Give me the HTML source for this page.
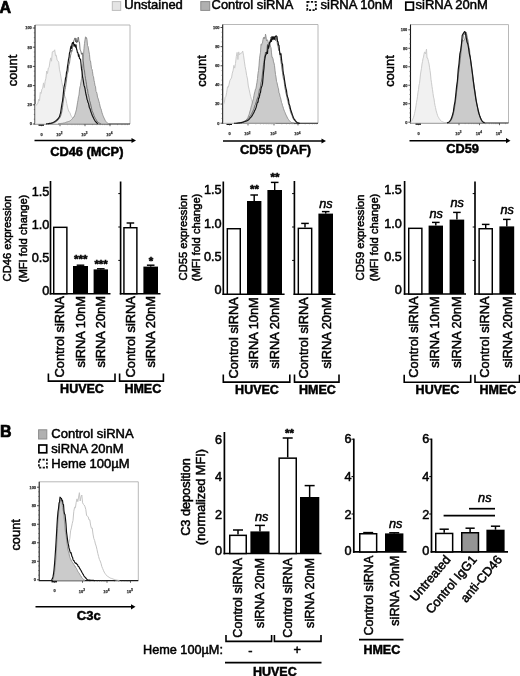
<!DOCTYPE html>
<html><head><meta charset="utf-8"><title>Figure</title>
<style>
html,body{margin:0;padding:0;background:#fff;}
body{width:520px;height:676px;overflow:hidden;}
svg{display:block;filter:blur(0.45px);font-family:'Liberation Sans', sans-serif;}
svg text{white-space:pre;stroke:#000;stroke-width:0.5px;paint-order:stroke;}
</style></head><body>
<svg width="520" height="676" viewBox="0 0 520 676">
<rect x="0" y="0" width="520" height="676" fill="#fff"/>
<text x="-0.6" y="13.0" font-size="16" font-weight="bold" style="stroke-width:0.7px">A</text>
<text x="0.1" y="437.4" font-size="16" font-weight="bold" style="stroke-width:0.7px">B</text>
<rect x="112.3" y="1.6" width="8.4" height="8.8" fill="#e4e4e4" stroke="#bdbdbd" stroke-width="1"/>
<text x="124.3" y="9.4" font-size="13.0">Unstained</text>
<rect x="200.8" y="1.6" width="8.9" height="8.8" fill="#b0b0b0" stroke="#8c8c8c" stroke-width="1"/>
<text x="211.6" y="9.4" font-size="12.9">Control siRNA</text>
<rect x="307.3" y="1.9" width="8.6" height="8.2" fill="#fff" stroke="#111" stroke-width="1.7" stroke-dasharray="2.2 1.4"/>
<text x="320.6" y="9.4" font-size="13.0">siRNA 10nM</text>
<rect x="405.8" y="2.2" width="7.6" height="7.8" fill="#fff" stroke="#000" stroke-width="1.7"/>
<text x="415.6" y="9.4" font-size="13.0">siRNA 20nM</text>
<polyline points="35,25 130,25 130,124" fill="none" stroke="#b0b0b0" stroke-width="0.9"/>
<polyline points="35,25 35,124 130,124" fill="none" stroke="#1a1a1a" stroke-width="1.1"/>
<line x1="32.8" y1="124.0" x2="35" y2="124.0" stroke="#222" stroke-width="0.8"/>
<text x="31.8" y="125.4" font-size="3.9" font-weight="bold" text-anchor="end" fill="#333" style="stroke:#333;stroke-width:0.25px">0</text>
<line x1="32.8" y1="104.8" x2="35" y2="104.8" stroke="#222" stroke-width="0.8"/>
<text x="31.8" y="106.2" font-size="3.9" font-weight="bold" text-anchor="end" fill="#333" style="stroke:#333;stroke-width:0.25px">20</text>
<line x1="32.8" y1="85.6" x2="35" y2="85.6" stroke="#222" stroke-width="0.8"/>
<text x="31.8" y="87.0" font-size="3.9" font-weight="bold" text-anchor="end" fill="#333" style="stroke:#333;stroke-width:0.25px">40</text>
<line x1="32.8" y1="66.4" x2="35" y2="66.4" stroke="#222" stroke-width="0.8"/>
<text x="31.8" y="67.80000000000001" font-size="3.9" font-weight="bold" text-anchor="end" fill="#333" style="stroke:#333;stroke-width:0.25px">60</text>
<line x1="32.8" y1="47.2" x2="35" y2="47.2" stroke="#222" stroke-width="0.8"/>
<text x="31.8" y="48.6" font-size="3.9" font-weight="bold" text-anchor="end" fill="#333" style="stroke:#333;stroke-width:0.25px">80</text>
<line x1="32.8" y1="28.0" x2="35" y2="28.0" stroke="#222" stroke-width="0.8"/>
<text x="31.8" y="29.4" font-size="3.9" font-weight="bold" text-anchor="end" fill="#333" style="stroke:#333;stroke-width:0.25px">100</text>
<line x1="33.8" y1="119.2" x2="35" y2="119.2" stroke="#444" stroke-width="0.5"/>
<line x1="33.8" y1="114.4" x2="35" y2="114.4" stroke="#444" stroke-width="0.5"/>
<line x1="33.8" y1="109.6" x2="35" y2="109.6" stroke="#444" stroke-width="0.5"/>
<line x1="33.8" y1="100.0" x2="35" y2="100.0" stroke="#444" stroke-width="0.5"/>
<line x1="33.8" y1="95.19999999999999" x2="35" y2="95.19999999999999" stroke="#444" stroke-width="0.5"/>
<line x1="33.8" y1="90.39999999999999" x2="35" y2="90.39999999999999" stroke="#444" stroke-width="0.5"/>
<line x1="33.8" y1="80.8" x2="35" y2="80.8" stroke="#444" stroke-width="0.5"/>
<line x1="33.8" y1="76.0" x2="35" y2="76.0" stroke="#444" stroke-width="0.5"/>
<line x1="33.8" y1="71.2" x2="35" y2="71.2" stroke="#444" stroke-width="0.5"/>
<line x1="33.8" y1="61.60000000000001" x2="35" y2="61.60000000000001" stroke="#444" stroke-width="0.5"/>
<line x1="33.8" y1="56.800000000000004" x2="35" y2="56.800000000000004" stroke="#444" stroke-width="0.5"/>
<line x1="33.8" y1="52.0" x2="35" y2="52.0" stroke="#444" stroke-width="0.5"/>
<line x1="33.8" y1="42.400000000000006" x2="35" y2="42.400000000000006" stroke="#444" stroke-width="0.5"/>
<line x1="33.8" y1="37.6" x2="35" y2="37.6" stroke="#444" stroke-width="0.5"/>
<line x1="33.8" y1="32.8" x2="35" y2="32.8" stroke="#444" stroke-width="0.5"/>
<rect x="38.5" y="124" width="5.5" height="1.8" fill="#111"/>
<line x1="41.5" y1="124" x2="41.5" y2="126.2" stroke="#222" stroke-width="0.7"/>
<text x="41.5" y="135.6" font-size="3.9" font-weight="bold" text-anchor="middle" fill="#333" style="stroke:#333;stroke-width:0.25px">0</text>
<line x1="60" y1="124" x2="60" y2="126.2" stroke="#222" stroke-width="0.7"/>
<text x="59.4" y="136" font-size="3.9" font-weight="bold" text-anchor="middle" fill="#333" style="stroke:#333;stroke-width:0.25px">10<tspan dy="-1.6" font-size="3.12">2</tspan></text>
<line x1="85" y1="124" x2="85" y2="126.2" stroke="#222" stroke-width="0.7"/>
<text x="84.4" y="136" font-size="3.9" font-weight="bold" text-anchor="middle" fill="#333" style="stroke:#333;stroke-width:0.25px">10<tspan dy="-1.6" font-size="3.12">3</tspan></text>
<line x1="110" y1="124" x2="110" y2="126.2" stroke="#222" stroke-width="0.7"/>
<text x="109.4" y="136" font-size="3.9" font-weight="bold" text-anchor="middle" fill="#333" style="stroke:#333;stroke-width:0.25px">10<tspan dy="-1.6" font-size="3.12">4</tspan></text>
<line x1="67.52574989159953" y1="124" x2="67.52574989159953" y2="125.2" stroke="#555" stroke-width="0.4"/>
<line x1="71.92803136799157" y1="124" x2="71.92803136799157" y2="125.2" stroke="#555" stroke-width="0.4"/>
<line x1="75.05149978319906" y1="124" x2="75.05149978319906" y2="125.2" stroke="#555" stroke-width="0.4"/>
<line x1="77.47425010840047" y1="124" x2="77.47425010840047" y2="125.2" stroke="#555" stroke-width="0.4"/>
<line x1="79.4537812595911" y1="124" x2="79.4537812595911" y2="125.2" stroke="#555" stroke-width="0.4"/>
<line x1="81.12745100035642" y1="124" x2="81.12745100035642" y2="125.2" stroke="#555" stroke-width="0.4"/>
<line x1="82.5772496747986" y1="124" x2="82.5772496747986" y2="125.2" stroke="#555" stroke-width="0.4"/>
<line x1="83.85606273598313" y1="124" x2="83.85606273598313" y2="125.2" stroke="#555" stroke-width="0.4"/>
<line x1="92.52574989159953" y1="124" x2="92.52574989159953" y2="125.2" stroke="#555" stroke-width="0.4"/>
<line x1="96.92803136799157" y1="124" x2="96.92803136799157" y2="125.2" stroke="#555" stroke-width="0.4"/>
<line x1="100.05149978319906" y1="124" x2="100.05149978319906" y2="125.2" stroke="#555" stroke-width="0.4"/>
<line x1="102.47425010840047" y1="124" x2="102.47425010840047" y2="125.2" stroke="#555" stroke-width="0.4"/>
<line x1="104.4537812595911" y1="124" x2="104.4537812595911" y2="125.2" stroke="#555" stroke-width="0.4"/>
<line x1="106.12745100035642" y1="124" x2="106.12745100035642" y2="125.2" stroke="#555" stroke-width="0.4"/>
<line x1="107.5772496747986" y1="124" x2="107.5772496747986" y2="125.2" stroke="#555" stroke-width="0.4"/>
<line x1="108.85606273598313" y1="124" x2="108.85606273598313" y2="125.2" stroke="#555" stroke-width="0.4"/>
<line x1="117.52574989159953" y1="124" x2="117.52574989159953" y2="125.2" stroke="#555" stroke-width="0.4"/>
<line x1="121.92803136799157" y1="124" x2="121.92803136799157" y2="125.2" stroke="#555" stroke-width="0.4"/>
<line x1="125.05149978319906" y1="124" x2="125.05149978319906" y2="125.2" stroke="#555" stroke-width="0.4"/>
<line x1="127.47425010840047" y1="124" x2="127.47425010840047" y2="125.2" stroke="#555" stroke-width="0.4"/>
<text x="16.5" y="70.5" font-size="12.9" text-anchor="middle" transform="rotate(-90 16.5 70.5)">count</text>
<polygon points="35.5,124.0 35.5,104.0 36.3,105.3 37.1,104.1 37.9,103.2 38.7,99.1 39.5,100.7 40.3,92.4 41.1,93.4 41.9,89.3 42.7,88.2 43.5,82.9 44.3,87.6 45.1,81.4 45.9,78.3 46.7,71.0 47.5,73.5 48.3,68.0 49.1,67.4 49.9,62.0 50.7,57.9 51.5,61.2 52.3,51.9 53.1,51.2 53.9,51.6 54.7,49.8 55.5,55.8 56.3,55.2 57.1,60.1 57.9,60.9 58.7,62.2 59.5,69.8 60.3,73.2 61.1,78.1 61.9,82.6 62.7,86.4 63.5,89.2 64.3,94.9 65.1,96.8 65.9,98.8 66.7,103.4 67.5,107.1 68.3,110.0 69.1,112.0 69.9,112.5 70.7,115.0 71.5,116.7 72.3,117.7 73.1,118.3 73.9,119.7 74.7,120.4 75.5,121.1 76.3,121.8 77.1,122.4 77.9,122.7 78.7,122.9 79.5,123.0 80.3,123.2 81.1,123.3 81.9,123.5 82.7,123.7 83.5,123.8 83.5,124.0" fill="#f1f1f1" stroke="#cbcbcb" stroke-width="1" stroke-linejoin="round"/>
<polygon points="58.0,124.0 58.0,124.0 58.5,123.9 59.0,123.8 59.5,123.7 60.0,123.7 60.5,123.6 61.0,123.5 61.5,123.4 62.0,123.3 62.5,123.3 63.0,123.2 63.5,123.0 64.0,123.0 64.5,122.9 65.0,122.7 65.5,122.5 66.0,122.3 66.5,122.1 67.0,122.0 67.5,121.8 68.0,121.7 68.5,121.5 69.0,121.3 69.5,121.2 70.0,120.9 70.5,120.5 71.0,120.1 71.5,119.6 72.0,119.1 72.5,118.5 73.0,118.0 73.5,117.1 74.0,117.0 74.5,115.6 75.0,114.4 75.5,112.8 76.0,111.1 76.5,109.1 77.0,106.0 77.5,102.8 78.0,100.2 78.5,96.6 79.0,95.1 79.5,89.9 80.0,86.9 80.5,85.3 81.0,81.5 81.5,78.6 82.0,75.5 82.5,68.9 83.0,60.9 83.5,54.9 84.0,48.5 84.5,43.4 85.0,39.9 85.5,36.8 86.0,39.2 86.5,37.5 87.0,39.6 87.5,45.5 88.0,46.3 88.5,49.0 89.0,52.0 89.5,54.5 90.0,60.7 90.5,60.9 91.0,64.8 91.5,68.6 92.0,69.2 92.5,71.7 93.0,75.6 93.5,76.7 94.0,80.3 94.5,82.4 95.0,85.9 95.5,86.3 96.0,91.6 96.5,92.0 97.0,93.6 97.5,97.1 98.0,98.1 98.5,100.0 99.0,101.6 99.5,103.5 100.0,106.0 100.5,108.1 101.0,108.9 101.5,110.7 102.0,112.8 102.5,114.2 103.0,115.6 103.5,116.8 104.0,118.0 104.5,118.9 105.0,120.1 105.5,120.9 106.0,121.7 106.5,122.3 107.0,122.6 107.5,123.0 108.0,123.3 108.5,123.6 109.0,123.9 109.0,124.0" fill="#cbcbcb" stroke="#8f8f8f" stroke-width="0.9" stroke-linejoin="round"/>
<polyline points="48.0,124.0 48.5,123.9 49.0,123.8 49.5,123.8 50.0,123.7 50.5,123.6 51.0,123.5 51.5,123.4 52.0,123.3 52.5,123.3 53.0,123.2 53.5,123.0 54.0,122.9 54.5,122.6 55.0,122.3 55.5,122.0 56.0,121.7 56.5,121.4 57.0,120.9 57.5,120.6 58.0,120.1 58.5,119.5 59.0,118.8 59.5,118.2 60.0,117.4 60.5,116.4 61.0,114.8 61.5,113.1 62.0,110.6 62.5,107.3 63.0,103.4 63.5,99.0 64.0,96.8 64.5,92.7 65.0,89.4 65.5,87.4 66.0,83.0 66.5,80.0 67.0,74.9 67.5,73.1 68.0,71.8 68.5,66.3 69.0,64.4 69.5,63.2 70.0,58.8 70.5,55.9 71.0,53.7 71.5,50.1 72.0,51.4 72.5,46.5 73.0,42.8 73.5,41.7 74.0,40.2 74.5,39.2 75.0,37.9 75.5,41.9 76.0,38.3 76.5,42.7 77.0,40.4 77.5,42.2 78.0,37.2 78.5,37.5 79.0,42.3 79.5,42.2 80.0,49.2 80.5,50.4 81.0,51.8 81.5,54.3 82.0,53.1 82.5,53.1 83.0,60.9 83.5,63.1 84.0,69.1 84.5,70.9 85.0,75.5 85.5,78.4 86.0,81.3 86.5,84.4 87.0,88.4 87.5,89.1 88.0,93.5 88.5,95.1 89.0,97.4 89.5,100.3 90.0,101.9 90.5,103.5 91.0,106.0 91.5,108.2 92.0,110.5 92.5,111.5 93.0,112.8 93.5,114.1 94.0,115.5 94.5,116.5 95.0,117.8 95.5,118.7 96.0,119.4 96.5,120.3 97.0,121.0 97.5,121.6 98.0,122.2 98.5,122.7 99.0,123.0 99.5,123.2 100.0,123.5 100.5,123.7 101.0,123.9" fill="none" stroke="#555" stroke-width="0.8" stroke-linejoin="round"/>
<polyline points="46.0,124.0 46.5,123.9 47.0,123.8 47.5,123.7 48.0,123.7 48.5,123.6 49.0,123.5 49.5,123.4 50.0,123.3 50.5,123.3 51.0,123.2 51.5,123.1 52.0,122.9 52.5,122.7 53.0,122.5 53.5,122.2 54.0,122.0 54.5,121.7 55.0,121.4 55.5,121.1 56.0,120.7 56.5,120.2 57.0,119.8 57.5,119.5 58.0,118.6 58.5,118.2 59.0,117.3 59.5,116.7 60.0,114.7 60.5,113.1 61.0,110.2 61.5,106.7 62.0,103.5 62.5,101.0 63.0,96.7 63.5,91.8 64.0,87.4 64.5,84.8 65.0,82.5 65.5,78.3 66.0,77.0 66.5,72.2 67.0,71.0 67.5,66.4 68.0,63.5 68.5,59.3 69.0,57.7 69.5,52.7 70.0,51.9 70.5,48.1 71.0,46.2 71.5,48.5 72.0,43.9 72.5,42.6 73.0,43.3 73.5,42.3 74.0,46.2 74.5,44.5 75.0,45.8 75.5,47.1 76.0,44.7 76.5,48.8 77.0,50.3 77.5,52.8 78.0,52.9 78.5,56.3 79.0,54.8 79.5,58.6 80.0,59.0 80.5,59.0 81.0,63.7 81.5,68.9 82.0,71.7 82.5,76.6 83.0,78.8 83.5,82.2 84.0,85.4 84.5,86.7 85.0,88.7 85.5,91.9 86.0,94.5 86.5,96.3 87.0,99.2 87.5,100.3 88.0,102.5 88.5,103.1 89.0,106.0 89.5,108.0 90.0,108.7 90.5,110.5 91.0,112.0 91.5,113.4 92.0,114.7 92.5,116.0 93.0,116.9 93.5,117.9 94.0,119.0 94.5,120.0 95.0,120.8 95.5,121.4 96.0,122.0 96.5,122.5 97.0,123.0 97.5,123.4 98.0,123.8" fill="none" stroke="#111" stroke-width="1.15" stroke-linejoin="round"/>
<line x1="34.5" y1="140.5" x2="133" y2="140.5" stroke="#000" stroke-width="1.5"/>
<polygon points="136,140.5 131.5,137.9 131.5,143.1" fill="#000"/>
<text x="86.8" y="155.5" font-size="12.8" font-weight="bold" text-anchor="middle">CD46 (MCP)</text>
<polyline points="222.7,24.5 318,24.5 318,123.2" fill="none" stroke="#b0b0b0" stroke-width="0.9"/>
<polyline points="222.7,24.5 222.7,123.2 318,123.2" fill="none" stroke="#1a1a1a" stroke-width="1.1"/>
<line x1="220.5" y1="123.2" x2="222.7" y2="123.2" stroke="#222" stroke-width="0.8"/>
<text x="219.5" y="124.60000000000001" font-size="3.9" font-weight="bold" text-anchor="end" fill="#333" style="stroke:#333;stroke-width:0.25px">0</text>
<line x1="220.5" y1="104.06" x2="222.7" y2="104.06" stroke="#222" stroke-width="0.8"/>
<text x="219.5" y="105.46000000000001" font-size="3.9" font-weight="bold" text-anchor="end" fill="#333" style="stroke:#333;stroke-width:0.25px">20</text>
<line x1="220.5" y1="84.92" x2="222.7" y2="84.92" stroke="#222" stroke-width="0.8"/>
<text x="219.5" y="86.32000000000001" font-size="3.9" font-weight="bold" text-anchor="end" fill="#333" style="stroke:#333;stroke-width:0.25px">40</text>
<line x1="220.5" y1="65.78" x2="222.7" y2="65.78" stroke="#222" stroke-width="0.8"/>
<text x="219.5" y="67.18" font-size="3.9" font-weight="bold" text-anchor="end" fill="#333" style="stroke:#333;stroke-width:0.25px">60</text>
<line x1="220.5" y1="46.64" x2="222.7" y2="46.64" stroke="#222" stroke-width="0.8"/>
<text x="219.5" y="48.04" font-size="3.9" font-weight="bold" text-anchor="end" fill="#333" style="stroke:#333;stroke-width:0.25px">80</text>
<line x1="220.5" y1="27.5" x2="222.7" y2="27.5" stroke="#222" stroke-width="0.8"/>
<text x="219.5" y="28.9" font-size="3.9" font-weight="bold" text-anchor="end" fill="#333" style="stroke:#333;stroke-width:0.25px">100</text>
<line x1="221.5" y1="118.415" x2="222.7" y2="118.415" stroke="#444" stroke-width="0.5"/>
<line x1="221.5" y1="113.63" x2="222.7" y2="113.63" stroke="#444" stroke-width="0.5"/>
<line x1="221.5" y1="108.845" x2="222.7" y2="108.845" stroke="#444" stroke-width="0.5"/>
<line x1="221.5" y1="99.275" x2="222.7" y2="99.275" stroke="#444" stroke-width="0.5"/>
<line x1="221.5" y1="94.49000000000001" x2="222.7" y2="94.49000000000001" stroke="#444" stroke-width="0.5"/>
<line x1="221.5" y1="89.705" x2="222.7" y2="89.705" stroke="#444" stroke-width="0.5"/>
<line x1="221.5" y1="80.135" x2="222.7" y2="80.135" stroke="#444" stroke-width="0.5"/>
<line x1="221.5" y1="75.35" x2="222.7" y2="75.35" stroke="#444" stroke-width="0.5"/>
<line x1="221.5" y1="70.565" x2="222.7" y2="70.565" stroke="#444" stroke-width="0.5"/>
<line x1="221.5" y1="60.995000000000005" x2="222.7" y2="60.995000000000005" stroke="#444" stroke-width="0.5"/>
<line x1="221.5" y1="56.21" x2="222.7" y2="56.21" stroke="#444" stroke-width="0.5"/>
<line x1="221.5" y1="51.425" x2="222.7" y2="51.425" stroke="#444" stroke-width="0.5"/>
<line x1="221.5" y1="41.855000000000004" x2="222.7" y2="41.855000000000004" stroke="#444" stroke-width="0.5"/>
<line x1="221.5" y1="37.07" x2="222.7" y2="37.07" stroke="#444" stroke-width="0.5"/>
<line x1="221.5" y1="32.285" x2="222.7" y2="32.285" stroke="#444" stroke-width="0.5"/>
<rect x="226.5" y="123.2" width="5.5" height="1.8" fill="#111"/>
<line x1="229.5" y1="123.2" x2="229.5" y2="125.4" stroke="#222" stroke-width="0.7"/>
<text x="229.5" y="134.8" font-size="3.9" font-weight="bold" text-anchor="middle" fill="#333" style="stroke:#333;stroke-width:0.25px">0</text>
<line x1="248" y1="123.2" x2="248" y2="125.4" stroke="#222" stroke-width="0.7"/>
<text x="247.4" y="135.2" font-size="3.9" font-weight="bold" text-anchor="middle" fill="#333" style="stroke:#333;stroke-width:0.25px">10<tspan dy="-1.6" font-size="3.12">2</tspan></text>
<line x1="274" y1="123.2" x2="274" y2="125.4" stroke="#222" stroke-width="0.7"/>
<text x="273.4" y="135.2" font-size="3.9" font-weight="bold" text-anchor="middle" fill="#333" style="stroke:#333;stroke-width:0.25px">10<tspan dy="-1.6" font-size="3.12">3</tspan></text>
<line x1="298" y1="123.2" x2="298" y2="125.4" stroke="#222" stroke-width="0.7"/>
<text x="297.4" y="135.2" font-size="3.9" font-weight="bold" text-anchor="middle" fill="#333" style="stroke:#333;stroke-width:0.25px">10<tspan dy="-1.6" font-size="3.12">4</tspan></text>
<line x1="255.8267798872635" y1="123.2" x2="255.8267798872635" y2="124.4" stroke="#555" stroke-width="0.4"/>
<line x1="260.4051526227112" y1="123.2" x2="260.4051526227112" y2="124.4" stroke="#555" stroke-width="0.4"/>
<line x1="263.653559774527" y1="123.2" x2="263.653559774527" y2="124.4" stroke="#555" stroke-width="0.4"/>
<line x1="266.1732201127365" y1="123.2" x2="266.1732201127365" y2="124.4" stroke="#555" stroke-width="0.4"/>
<line x1="268.23193250997474" y1="123.2" x2="268.23193250997474" y2="124.4" stroke="#555" stroke-width="0.4"/>
<line x1="269.97254904037067" y1="123.2" x2="269.97254904037067" y2="124.4" stroke="#555" stroke-width="0.4"/>
<line x1="271.48033966179054" y1="123.2" x2="271.48033966179054" y2="124.4" stroke="#555" stroke-width="0.4"/>
<line x1="272.81030524542246" y1="123.2" x2="272.81030524542246" y2="124.4" stroke="#555" stroke-width="0.4"/>
<line x1="281.8267798872635" y1="123.2" x2="281.8267798872635" y2="124.4" stroke="#555" stroke-width="0.4"/>
<line x1="286.4051526227112" y1="123.2" x2="286.4051526227112" y2="124.4" stroke="#555" stroke-width="0.4"/>
<line x1="289.653559774527" y1="123.2" x2="289.653559774527" y2="124.4" stroke="#555" stroke-width="0.4"/>
<line x1="292.1732201127365" y1="123.2" x2="292.1732201127365" y2="124.4" stroke="#555" stroke-width="0.4"/>
<line x1="294.23193250997474" y1="123.2" x2="294.23193250997474" y2="124.4" stroke="#555" stroke-width="0.4"/>
<line x1="295.97254904037067" y1="123.2" x2="295.97254904037067" y2="124.4" stroke="#555" stroke-width="0.4"/>
<line x1="297.48033966179054" y1="123.2" x2="297.48033966179054" y2="124.4" stroke="#555" stroke-width="0.4"/>
<line x1="298.81030524542246" y1="123.2" x2="298.81030524542246" y2="124.4" stroke="#555" stroke-width="0.4"/>
<line x1="305.22471989593555" y1="123.2" x2="305.22471989593555" y2="124.4" stroke="#555" stroke-width="0.4"/>
<line x1="309.4509101132719" y1="123.2" x2="309.4509101132719" y2="124.4" stroke="#555" stroke-width="0.4"/>
<line x1="312.4494397918711" y1="123.2" x2="312.4494397918711" y2="124.4" stroke="#555" stroke-width="0.4"/>
<line x1="314.77528010406445" y1="123.2" x2="314.77528010406445" y2="124.4" stroke="#555" stroke-width="0.4"/>
<line x1="316.67563000920745" y1="123.2" x2="316.67563000920745" y2="124.4" stroke="#555" stroke-width="0.4"/>
<text x="206.1" y="71" font-size="12.9" text-anchor="middle" transform="rotate(-90 206.1 71)">count</text>
<polygon points="223.5,123.2 223.5,104.2 224.3,102.7 225.1,97.2 225.9,96.4 226.7,92.3 227.5,86.8 228.3,87.2 229.1,84.1 229.9,80.5 230.7,79.0 231.5,78.0 232.3,73.2 233.1,70.5 233.9,65.4 234.7,68.1 235.5,63.4 236.3,56.5 237.1,52.4 237.9,59.5 238.7,51.9 239.5,54.9 240.3,53.4 241.1,53.2 241.9,52.8 242.7,51.0 243.5,55.2 244.3,61.1 245.1,66.6 245.9,70.5 246.7,75.7 247.5,79.0 248.3,86.0 249.1,89.3 249.9,93.3 250.7,96.7 251.5,99.5 252.3,102.3 253.1,103.9 253.9,107.1 254.7,108.1 255.5,110.9 256.3,112.5 257.1,113.6 257.9,114.9 258.7,116.2 259.5,117.1 260.3,118.1 261.1,119.0 261.9,119.9 262.7,120.5 263.5,120.9 264.3,121.4 265.1,121.8 265.9,122.0 266.7,122.3 267.5,122.5 268.3,122.7 269.1,122.9 269.9,123.1 270.7,123.1 271.5,123.2 272.3,123.2 273.1,123.2 273.9,123.2 274.7,123.2 275.5,123.2 275.5,123.2" fill="#f1f1f1" stroke="#cbcbcb" stroke-width="1" stroke-linejoin="round"/>
<polygon points="238.0,123.2 238.0,123.2 238.5,123.2 239.0,123.2 239.5,123.2 240.0,123.1 240.5,122.9 241.0,122.8 241.5,122.7 242.0,122.5 242.5,122.4 243.0,122.2 243.5,122.1 244.0,121.8 244.5,121.4 245.0,121.0 245.5,120.5 246.0,120.0 246.5,119.5 247.0,118.9 247.5,118.3 248.0,117.4 248.5,116.0 249.0,114.9 249.5,113.1 250.0,111.1 250.5,109.9 251.0,107.4 251.5,105.7 252.0,104.1 252.5,101.8 253.0,100.2 253.5,98.6 254.0,95.3 254.5,92.9 255.0,91.2 255.5,89.0 256.0,88.3 256.5,85.1 257.0,82.3 257.5,78.6 258.0,73.4 258.5,70.6 259.0,65.9 259.5,58.8 260.0,55.1 260.5,52.2 261.0,44.5 261.5,45.2 262.0,43.2 262.5,42.9 263.0,39.5 263.5,37.4 264.0,39.0 264.5,37.1 265.0,38.4 265.5,34.1 266.0,36.4 266.5,40.9 267.0,39.9 267.5,39.9 268.0,41.3 268.5,43.6 269.0,43.0 269.5,42.0 270.0,43.4 270.5,47.1 271.0,47.6 271.5,52.9 272.0,57.5 272.5,57.3 273.0,58.8 273.5,61.9 274.0,63.1 274.5,65.6 275.0,70.2 275.5,74.5 276.0,77.1 276.5,81.3 277.0,82.7 277.5,85.1 278.0,87.3 278.5,88.9 279.0,93.2 279.5,93.5 280.0,96.3 280.5,97.6 281.0,99.9 281.5,102.4 282.0,103.4 282.5,105.7 283.0,106.8 283.5,108.7 284.0,110.1 284.5,111.4 285.0,112.4 285.5,113.8 286.0,115.0 286.5,115.8 287.0,117.0 287.5,118.0 288.0,118.9 288.5,119.5 289.0,120.2 289.5,120.8 290.0,121.4 290.5,121.9 291.0,122.3 291.5,122.6 292.0,122.9 292.5,123.1 293.0,123.2 293.5,123.2 294.0,123.2 294.0,123.2" fill="#cbcbcb" stroke="#8f8f8f" stroke-width="0.9" stroke-linejoin="round"/>
<polyline points="236.0,123.2 236.5,123.2 237.0,123.2 237.5,123.2 238.0,123.2 238.5,123.1 239.0,123.1 239.5,123.0 240.0,122.9 240.5,122.8 241.0,122.7 241.5,122.6 242.0,122.4 242.5,122.2 243.0,122.0 243.5,121.8 244.0,121.5 244.5,121.2 245.0,121.0 245.5,120.8 246.0,120.4 246.5,120.2 247.0,119.9 247.5,119.2 248.0,118.8 248.5,118.3 249.0,117.5 249.5,117.2 250.0,116.1 250.5,115.6 251.0,114.9 251.5,113.6 252.0,113.1 252.5,111.5 253.0,111.0 253.5,109.6 254.0,108.6 254.5,106.6 255.0,105.1 255.5,104.4 256.0,102.3 256.5,101.1 257.0,99.1 257.5,98.0 258.0,96.9 258.5,95.2 259.0,92.2 259.5,89.1 260.0,88.5 260.5,87.0 261.0,82.7 261.5,81.2 262.0,77.6 262.5,73.1 263.0,68.7 263.5,64.5 264.0,62.2 264.5,57.0 265.0,55.6 265.5,52.0 266.0,52.5 266.5,53.1 267.0,48.8 267.5,44.4 268.0,45.9 268.5,45.2 269.0,44.2 269.5,42.8 270.0,40.6 270.5,41.6 271.0,37.0 271.5,40.1 272.0,39.5 272.5,37.1 273.0,36.7 273.5,39.2 274.0,37.8 274.5,36.5 275.0,37.7 275.5,40.5 276.0,37.1 276.5,38.1 277.0,40.7 277.5,44.9 278.0,46.0 278.5,48.9 279.0,51.0 279.5,51.5 280.0,54.2 280.5,58.5 281.0,61.9 281.5,65.0 282.0,69.1 282.5,72.4 283.0,76.3 283.5,78.9 284.0,80.1 284.5,84.3 285.0,88.0 285.5,90.6 286.0,93.3 286.5,95.0 287.0,97.4 287.5,100.5 288.0,101.7 288.5,104.2 289.0,105.5 289.5,108.0 290.0,109.5 290.5,111.8 291.0,113.2 291.5,114.4 292.0,115.6 292.5,116.9 293.0,118.3 293.5,119.2 294.0,120.0 294.5,120.6 295.0,121.2 295.5,121.6 296.0,122.2 296.5,122.6 297.0,122.9 297.5,123.1 298.0,123.2 298.5,123.2 299.0,123.2" fill="none" stroke="#555" stroke-width="0.8" stroke-linejoin="round"/>
<polyline points="234.0,123.2 234.5,123.2 235.0,123.2 235.5,123.2 236.0,123.2 236.5,123.2 237.0,123.2 237.5,123.1 238.0,123.0 238.5,123.0 239.0,122.9 239.5,122.8 240.0,122.8 240.5,122.7 241.0,122.6 241.5,122.6 242.0,122.4 242.5,122.3 243.0,122.2 243.5,122.0 244.0,121.8 244.5,121.7 245.0,121.5 245.5,121.3 246.0,121.2 246.5,121.0 247.0,120.8 247.5,120.6 248.0,120.3 248.5,119.9 249.0,119.3 249.5,118.8 250.0,118.2 250.5,117.7 251.0,117.1 251.5,116.6 252.0,115.7 252.5,115.1 253.0,114.1 253.5,113.1 254.0,112.2 254.5,111.0 255.0,110.0 255.5,108.9 256.0,107.7 256.5,105.9 257.0,103.7 257.5,102.1 258.0,102.1 258.5,98.3 259.0,98.0 259.5,96.2 260.0,93.3 260.5,92.5 261.0,88.7 261.5,87.1 262.0,85.9 262.5,83.6 263.0,78.2 263.5,72.5 264.0,68.1 264.5,60.8 265.0,58.2 265.5,55.1 266.0,54.8 266.5,52.6 267.0,52.2 267.5,53.5 268.0,45.9 268.5,48.3 269.0,46.3 269.5,42.6 270.0,42.8 270.5,41.0 271.0,39.5 271.5,41.4 272.0,36.5 272.5,38.2 273.0,39.6 273.5,36.8 274.0,37.5 274.5,39.3 275.0,36.9 275.5,36.6 276.0,35.8 276.5,36.0 277.0,36.6 277.5,41.5 278.0,41.5 278.5,45.2 279.0,45.3 279.5,50.6 280.0,54.4 280.5,54.7 281.0,53.7 281.5,58.8 282.0,63.4 282.5,64.0 283.0,70.5 283.5,73.9 284.0,76.2 284.5,79.8 285.0,83.1 285.5,86.2 286.0,88.6 286.5,90.5 287.0,94.6 287.5,96.7 288.0,98.1 288.5,99.8 289.0,103.7 289.5,104.9 290.0,106.5 290.5,109.0 291.0,110.8 291.5,112.0 292.0,113.8 292.5,115.1 293.0,116.4 293.5,117.7 294.0,118.9 294.5,119.4 295.0,120.1 295.5,120.8 296.0,121.4 296.5,121.9 297.0,122.4 297.5,122.7 298.0,122.9 298.5,123.1 299.0,123.2 299.5,123.2 300.0,123.2" fill="none" stroke="#111" stroke-width="1.15" stroke-linejoin="round"/>
<line x1="223" y1="141" x2="323" y2="141" stroke="#000" stroke-width="1.5"/>
<polygon points="326,141 321.5,138.4 321.5,143.6" fill="#000"/>
<text x="275.5" y="153.5" font-size="12.8" font-weight="bold" text-anchor="middle">CD55 (DAF)</text>
<polyline points="410.5,24.6 508.5,24.6 508.5,123" fill="none" stroke="#b0b0b0" stroke-width="0.9"/>
<polyline points="410.5,24.6 410.5,123 508.5,123" fill="none" stroke="#1a1a1a" stroke-width="1.1"/>
<line x1="408.3" y1="122.2" x2="410.5" y2="122.2" stroke="#222" stroke-width="0.8"/>
<text x="407.3" y="123.60000000000001" font-size="3.9" font-weight="bold" text-anchor="end" fill="#333" style="stroke:#333;stroke-width:0.25px">0</text>
<line x1="408.3" y1="103.72" x2="410.5" y2="103.72" stroke="#222" stroke-width="0.8"/>
<text x="407.3" y="105.12" font-size="3.9" font-weight="bold" text-anchor="end" fill="#333" style="stroke:#333;stroke-width:0.25px">20</text>
<line x1="408.3" y1="85.24000000000001" x2="410.5" y2="85.24000000000001" stroke="#222" stroke-width="0.8"/>
<text x="407.3" y="86.64000000000001" font-size="3.9" font-weight="bold" text-anchor="end" fill="#333" style="stroke:#333;stroke-width:0.25px">40</text>
<line x1="408.3" y1="66.76000000000002" x2="410.5" y2="66.76000000000002" stroke="#222" stroke-width="0.8"/>
<text x="407.3" y="68.16000000000003" font-size="3.9" font-weight="bold" text-anchor="end" fill="#333" style="stroke:#333;stroke-width:0.25px">60</text>
<line x1="408.3" y1="48.280000000000015" x2="410.5" y2="48.280000000000015" stroke="#222" stroke-width="0.8"/>
<text x="407.3" y="49.680000000000014" font-size="3.9" font-weight="bold" text-anchor="end" fill="#333" style="stroke:#333;stroke-width:0.25px">80</text>
<line x1="408.3" y1="29.799999999999997" x2="410.5" y2="29.799999999999997" stroke="#222" stroke-width="0.8"/>
<text x="407.3" y="31.199999999999996" font-size="3.9" font-weight="bold" text-anchor="end" fill="#333" style="stroke:#333;stroke-width:0.25px">100</text>
<line x1="409.3" y1="117.58" x2="410.5" y2="117.58" stroke="#444" stroke-width="0.5"/>
<line x1="409.3" y1="112.96000000000001" x2="410.5" y2="112.96000000000001" stroke="#444" stroke-width="0.5"/>
<line x1="409.3" y1="108.34" x2="410.5" y2="108.34" stroke="#444" stroke-width="0.5"/>
<line x1="409.3" y1="99.1" x2="410.5" y2="99.1" stroke="#444" stroke-width="0.5"/>
<line x1="409.3" y1="94.48" x2="410.5" y2="94.48" stroke="#444" stroke-width="0.5"/>
<line x1="409.3" y1="89.86000000000001" x2="410.5" y2="89.86000000000001" stroke="#444" stroke-width="0.5"/>
<line x1="409.3" y1="80.62" x2="410.5" y2="80.62" stroke="#444" stroke-width="0.5"/>
<line x1="409.3" y1="76.00000000000001" x2="410.5" y2="76.00000000000001" stroke="#444" stroke-width="0.5"/>
<line x1="409.3" y1="71.38000000000002" x2="410.5" y2="71.38000000000002" stroke="#444" stroke-width="0.5"/>
<line x1="409.3" y1="62.140000000000015" x2="410.5" y2="62.140000000000015" stroke="#444" stroke-width="0.5"/>
<line x1="409.3" y1="57.52000000000002" x2="410.5" y2="57.52000000000002" stroke="#444" stroke-width="0.5"/>
<line x1="409.3" y1="52.90000000000002" x2="410.5" y2="52.90000000000002" stroke="#444" stroke-width="0.5"/>
<line x1="409.3" y1="43.66000000000001" x2="410.5" y2="43.66000000000001" stroke="#444" stroke-width="0.5"/>
<line x1="409.3" y1="39.040000000000006" x2="410.5" y2="39.040000000000006" stroke="#444" stroke-width="0.5"/>
<line x1="409.3" y1="34.42" x2="410.5" y2="34.42" stroke="#444" stroke-width="0.5"/>
<rect x="415.5" y="123" width="5.5" height="1.8" fill="#111"/>
<line x1="418.5" y1="123" x2="418.5" y2="125.2" stroke="#222" stroke-width="0.7"/>
<text x="418.5" y="134.6" font-size="3.9" font-weight="bold" text-anchor="middle" fill="#333" style="stroke:#333;stroke-width:0.25px">0</text>
<line x1="459" y1="123" x2="459" y2="125.2" stroke="#222" stroke-width="0.7"/>
<text x="458.4" y="135" font-size="3.9" font-weight="bold" text-anchor="middle" fill="#333" style="stroke:#333;stroke-width:0.25px">10<tspan dy="-1.6" font-size="3.12">3</tspan></text>
<line x1="479.5" y1="123" x2="479.5" y2="125.2" stroke="#222" stroke-width="0.7"/>
<text x="478.9" y="135" font-size="3.9" font-weight="bold" text-anchor="middle" fill="#333" style="stroke:#333;stroke-width:0.25px">10<tspan dy="-1.6" font-size="3.12">4</tspan></text>
<line x1="499.5" y1="123" x2="499.5" y2="125.2" stroke="#222" stroke-width="0.7"/>
<text x="498.9" y="135" font-size="3.9" font-weight="bold" text-anchor="middle" fill="#333" style="stroke:#333;stroke-width:0.25px">10<tspan dy="-1.6" font-size="3.12">5</tspan></text>
<line x1="465.1711149111116" y1="123" x2="465.1711149111116" y2="124.2" stroke="#555" stroke-width="0.4"/>
<line x1="468.7809857217531" y1="123" x2="468.7809857217531" y2="124.2" stroke="#555" stroke-width="0.4"/>
<line x1="471.3422298222232" y1="123" x2="471.3422298222232" y2="124.2" stroke="#555" stroke-width="0.4"/>
<line x1="473.3288850888884" y1="123" x2="473.3288850888884" y2="124.2" stroke="#555" stroke-width="0.4"/>
<line x1="474.9521006328647" y1="123" x2="474.9521006328647" y2="124.2" stroke="#555" stroke-width="0.4"/>
<line x1="476.3245098202923" y1="123" x2="476.3245098202923" y2="124.2" stroke="#555" stroke-width="0.4"/>
<line x1="477.51334473333486" y1="123" x2="477.51334473333486" y2="124.2" stroke="#555" stroke-width="0.4"/>
<line x1="478.56197144350614" y1="123" x2="478.56197144350614" y2="124.2" stroke="#555" stroke-width="0.4"/>
<line x1="485.6711149111116" y1="123" x2="485.6711149111116" y2="124.2" stroke="#555" stroke-width="0.4"/>
<line x1="489.2809857217531" y1="123" x2="489.2809857217531" y2="124.2" stroke="#555" stroke-width="0.4"/>
<line x1="491.8422298222232" y1="123" x2="491.8422298222232" y2="124.2" stroke="#555" stroke-width="0.4"/>
<line x1="493.8288850888884" y1="123" x2="493.8288850888884" y2="124.2" stroke="#555" stroke-width="0.4"/>
<line x1="495.4521006328647" y1="123" x2="495.4521006328647" y2="124.2" stroke="#555" stroke-width="0.4"/>
<line x1="496.8245098202923" y1="123" x2="496.8245098202923" y2="124.2" stroke="#555" stroke-width="0.4"/>
<line x1="498.01334473333486" y1="123" x2="498.01334473333486" y2="124.2" stroke="#555" stroke-width="0.4"/>
<line x1="499.06197144350614" y1="123" x2="499.06197144350614" y2="124.2" stroke="#555" stroke-width="0.4"/>
<line x1="505.5205999132796" y1="123" x2="505.5205999132796" y2="124.2" stroke="#555" stroke-width="0.4"/>
<text x="393.9" y="71" font-size="12.9" text-anchor="middle" transform="rotate(-90 393.9 71)">count</text>
<polygon points="411.0,123.0 411.0,121.7 411.5,121.3 412.0,120.6 412.5,119.7 413.0,118.6 413.5,117.3 414.0,115.8 414.5,113.6 415.0,111.3 415.5,108.9 416.0,105.7 416.5,102.3 417.0,99.7 417.5,96.3 418.0,92.2 418.5,89.6 419.0,85.2 419.5,83.4 420.0,79.1 420.5,74.1 421.0,71.0 421.5,68.3 422.0,64.0 422.5,61.6 423.0,58.6 423.5,57.2 424.0,54.2 424.5,52.1 425.0,52.1 425.5,53.9 426.0,51.5 426.5,49.1 427.0,58.1 427.5,58.0 428.0,59.6 428.5,61.7 429.0,63.8 429.5,67.2 430.0,70.4 430.5,74.0 431.0,79.6 431.5,82.7 432.0,86.7 432.5,89.6 433.0,93.5 433.5,97.1 434.0,98.8 434.5,102.7 435.0,105.5 435.5,107.5 436.0,110.2 436.5,112.0 437.0,113.7 437.5,115.3 438.0,116.6 438.5,117.3 439.0,118.3 439.5,119.1 440.0,119.7 440.5,120.4 441.0,120.8 441.5,121.3 442.0,121.6 442.5,121.8 443.0,122.0 443.5,122.2 444.0,122.4 444.5,122.6 445.0,122.7 445.5,122.7 446.0,122.8 446.5,122.9 447.0,123.0 447.0,123.0" fill="#f1f1f1" stroke="#cbcbcb" stroke-width="1" stroke-linejoin="round"/>
<polygon points="448.0,123.0 448.0,122.8 448.8,122.4 449.6,121.9 450.4,121.1 451.2,120.0 452.0,118.5 452.8,116.2 453.6,113.2 454.4,109.2 455.2,104.1 456.0,97.7 456.8,90.1 457.6,84.6 458.4,74.8 459.2,67.9 460.0,60.0 460.8,55.7 461.6,47.3 462.4,39.6 463.2,41.0 464.0,40.6 464.8,39.0 465.6,35.0 466.4,32.1 467.2,37.5 468.0,40.0 468.8,47.4 469.6,50.1 470.4,58.4 471.2,63.0 472.0,70.4 472.8,76.8 473.6,81.9 474.4,88.1 475.2,92.2 476.0,98.2 476.8,102.9 477.6,107.5 478.4,110.6 479.2,114.3 480.0,116.7 480.8,118.9 481.6,120.4 482.4,121.4 483.2,122.1 484.0,122.6 484.0,123.0" fill="#cbcbcb" stroke="#8f8f8f" stroke-width="0.9" stroke-linejoin="round"/>
<polyline points="448.0,122.8 448.8,122.4 449.6,121.9 450.4,121.2 451.2,119.8 452.0,118.1 452.8,115.6 453.6,112.1 454.4,107.6 455.2,102.9 456.0,96.6 456.8,89.5 457.6,81.0 458.4,73.3 459.2,68.1 460.0,60.5 460.8,50.4 461.6,42.4 462.4,40.4 463.2,38.0 464.0,32.2 464.8,34.9 465.6,33.8 466.4,34.0 467.2,38.7 468.0,43.3 468.8,46.6 469.6,54.5 470.4,59.7 471.2,66.5 472.0,72.3 472.8,78.9 473.6,84.6 474.4,90.6 475.2,95.5 476.0,100.4 476.8,104.7 477.6,108.2 478.4,112.5 479.2,114.7 480.0,117.5 480.8,119.5 481.6,120.8 482.4,121.8 483.2,122.3 484.0,122.6 484.8,122.8" fill="none" stroke="#666" stroke-width="0.7" stroke-linejoin="round"/>
<polyline points="447.0,122.8 447.8,122.6 448.6,122.2 449.4,121.6 450.2,120.5 451.0,119.2 451.8,117.1 452.6,114.6 453.4,111.4 454.2,105.5 455.0,101.5 455.8,94.3 456.6,86.4 457.4,80.8 458.2,69.7 459.0,63.6 459.8,54.2 460.6,50.7 461.4,45.1 462.2,35.6 463.0,33.9 463.8,32.9 464.6,31.5 465.4,32.4 466.2,37.6 467.0,42.1 467.8,44.0 468.6,48.3 469.4,54.1 470.2,57.0 471.0,62.9 471.8,68.5 472.6,74.5 473.4,81.4 474.2,87.3 475.0,92.7 475.8,98.6 476.6,103.0 477.4,106.7 478.2,110.5 479.0,113.5 479.8,116.0 480.6,118.0 481.4,119.8 482.2,121.1 483.0,121.9 483.8,122.4 484.6,122.6" fill="none" stroke="#111" stroke-width="1.15" stroke-linejoin="round"/>
<line x1="409.5" y1="140.7" x2="507.5" y2="140.7" stroke="#000" stroke-width="1.5"/>
<polygon points="510.5,140.7 506.0,138.1 506.0,143.29999999999998" fill="#000"/>
<text x="462.6" y="153" font-size="12.8" font-weight="bold" text-anchor="middle">CD59</text>
<line x1="50.5" y1="181" x2="50.5" y2="294.525" stroke="#000" stroke-width="1.65"/>
<line x1="49.675" y1="293.7" x2="110.5" y2="293.7" stroke="#000" stroke-width="1.65"/>
<text x="49.3" y="195.6" font-size="12.7" text-anchor="end">1.5</text>
<text x="49.3" y="229" font-size="12.7" text-anchor="end">1.0</text>
<text x="49.3" y="262" font-size="12.7" text-anchor="end">0.5</text>
<text x="49.3" y="295" font-size="12.7" text-anchor="end">0</text>
<rect x="53.725" y="227.325" width="13.149999999999995" height="66.375" fill="#fff" stroke="#000" stroke-width="1.45"/>
<text x="64.5" y="296.09999999999997" font-size="12.85" text-anchor="end" transform="rotate(-90 64.5 296.09999999999997)">Control siRNA</text>
<line x1="80.5" y1="265.2" x2="80.5" y2="266" stroke="#000" stroke-width="1.45"/>
<line x1="76.7" y1="265.2" x2="84.3" y2="265.2" stroke="#000" stroke-width="1.45"/>
<rect x="73" y="266" width="15" height="27.69999999999999" fill="#000"/>
<text x="84.7" y="296.09999999999997" font-size="12.85" text-anchor="end" transform="rotate(-90 84.7 296.09999999999997)">siRNA 10nM</text>
<text x="80.8" y="262.5" font-size="11.5" font-weight="bold" text-anchor="middle">***</text>
<line x1="100.8" y1="268.8" x2="100.8" y2="269.4" stroke="#000" stroke-width="1.45"/>
<line x1="97.0" y1="268.8" x2="104.6" y2="268.8" stroke="#000" stroke-width="1.45"/>
<rect x="93.6" y="269.4" width="14.400000000000006" height="24.30000000000001" fill="#000"/>
<text x="105.0" y="296.09999999999997" font-size="12.85" text-anchor="end" transform="rotate(-90 105.0 296.09999999999997)">siRNA 20nM</text>
<text x="101.1" y="267.5" font-size="11.5" font-weight="bold" text-anchor="middle">***</text>
<line x1="120.6" y1="181.5" x2="120.6" y2="294.525" stroke="#000" stroke-width="1.65"/>
<line x1="119.77499999999999" y1="293.7" x2="160.5" y2="293.7" stroke="#000" stroke-width="1.65"/>
<line x1="118.3" y1="193.6" x2="120.6" y2="193.6" stroke="#000" stroke-width="1.0"/>
<line x1="118.3" y1="227" x2="120.6" y2="227" stroke="#000" stroke-width="1.0"/>
<line x1="118.3" y1="260.4" x2="120.6" y2="260.4" stroke="#000" stroke-width="1.0"/>
<line x1="130.4" y1="223" x2="130.4" y2="227" stroke="#000" stroke-width="1.45"/>
<line x1="126.60000000000001" y1="223" x2="134.20000000000002" y2="223" stroke="#000" stroke-width="1.45"/>
<rect x="123.925" y="227.725" width="12.949999999999992" height="65.975" fill="#fff" stroke="#000" stroke-width="1.45"/>
<text x="134.6" y="296.09999999999997" font-size="12.85" text-anchor="end" transform="rotate(-90 134.6 296.09999999999997)">Control siRNA</text>
<line x1="150.7" y1="265.2" x2="150.7" y2="266.6" stroke="#000" stroke-width="1.45"/>
<line x1="146.89999999999998" y1="265.2" x2="154.5" y2="265.2" stroke="#000" stroke-width="1.45"/>
<rect x="143.4" y="266.6" width="14.599999999999994" height="27.099999999999966" fill="#000"/>
<text x="154.89999999999998" y="296.09999999999997" font-size="12.85" text-anchor="end" transform="rotate(-90 154.89999999999998 296.09999999999997)">siRNA 20nM</text>
<text x="151.0" y="264.5" font-size="11.5" font-weight="bold" text-anchor="middle">*</text>
<text x="11.4" y="238.5" font-size="11.2" text-anchor="middle" transform="rotate(-90 11.4 238.5)">CD46 expression</text>
<text x="26.6" y="238.5" font-size="11.2" text-anchor="middle" transform="rotate(-90 26.6 238.5)">(MFI fold change)</text>
<polyline points="48.4,373.4 48.4,381.1 115,381.1 115,373.4" fill="none" stroke="#000" stroke-width="1.6"/>
<polyline points="119.6,373.4 119.6,381.1 163.4,381.1 163.4,373.4" fill="none" stroke="#000" stroke-width="1.6"/>
<text x="82" y="393" font-size="12.5" font-weight="bold" text-anchor="middle">HUVEC</text>
<text x="142.8" y="393" font-size="12.5" font-weight="bold" text-anchor="middle">HMEC</text>
<line x1="223.3" y1="181.5" x2="223.3" y2="295.025" stroke="#000" stroke-width="1.65"/>
<line x1="222.47500000000002" y1="294.2" x2="284.6" y2="294.2" stroke="#000" stroke-width="1.65"/>
<text x="221.60000000000002" y="194.4" font-size="12.7" text-anchor="end">1.5</text>
<text x="221.60000000000002" y="228" font-size="12.7" text-anchor="end">1.0</text>
<text x="221.60000000000002" y="261" font-size="12.7" text-anchor="end">0.5</text>
<text x="221.60000000000002" y="294" font-size="12.7" text-anchor="end">0</text>
<rect x="227.325" y="228.725" width="12.950000000000006" height="65.475" fill="#fff" stroke="#000" stroke-width="1.45"/>
<text x="238.10000000000002" y="297.2" font-size="12.85" text-anchor="end" transform="rotate(-90 238.10000000000002 297.2)">Control siRNA</text>
<line x1="254.2" y1="195" x2="254.2" y2="201" stroke="#000" stroke-width="1.45"/>
<line x1="250.39999999999998" y1="195" x2="258.0" y2="195" stroke="#000" stroke-width="1.45"/>
<rect x="247" y="201" width="14.399999999999977" height="93.19999999999999" fill="#000"/>
<text x="258.5" y="297.2" font-size="12.85" text-anchor="end" transform="rotate(-90 258.5 297.2)">siRNA 10nM</text>
<text x="254.5" y="193.0" font-size="11.5" font-weight="bold" text-anchor="middle">**</text>
<line x1="274.7" y1="182.4" x2="274.7" y2="190" stroke="#000" stroke-width="1.45"/>
<line x1="270.9" y1="182.4" x2="278.5" y2="182.4" stroke="#000" stroke-width="1.45"/>
<rect x="267.4" y="190" width="14.600000000000023" height="104.19999999999999" fill="#000"/>
<text x="279.0" y="297.2" font-size="12.85" text-anchor="end" transform="rotate(-90 279.0 297.2)">siRNA 20nM</text>
<text x="275.0" y="180.5" font-size="11.5" font-weight="bold" text-anchor="middle">**</text>
<line x1="294.4" y1="181" x2="294.4" y2="295.025" stroke="#000" stroke-width="1.65"/>
<line x1="293.575" y1="294.2" x2="335.4" y2="294.2" stroke="#000" stroke-width="1.65"/>
<line x1="292.09999999999997" y1="193.6" x2="294.4" y2="193.6" stroke="#000" stroke-width="1.0"/>
<line x1="292.09999999999997" y1="227" x2="294.4" y2="227" stroke="#000" stroke-width="1.0"/>
<line x1="292.09999999999997" y1="260.4" x2="294.4" y2="260.4" stroke="#000" stroke-width="1.0"/>
<line x1="305.0" y1="223.4" x2="305.0" y2="227.6" stroke="#000" stroke-width="1.45"/>
<line x1="301.2" y1="223.4" x2="308.8" y2="223.4" stroke="#000" stroke-width="1.45"/>
<rect x="298.32500000000005" y="228.325" width="13.349999999999955" height="65.875" fill="#fff" stroke="#000" stroke-width="1.45"/>
<text x="307.8" y="297.2" font-size="12.85" text-anchor="end" transform="rotate(-90 307.8 297.2)">Control siRNA</text>
<line x1="325.7" y1="211.6" x2="325.7" y2="213.6" stroke="#000" stroke-width="1.45"/>
<line x1="321.9" y1="211.6" x2="329.5" y2="211.6" stroke="#000" stroke-width="1.45"/>
<rect x="318.4" y="213.6" width="14.600000000000023" height="80.6" fill="#000"/>
<text x="330.7" y="297.2" font-size="12.85" text-anchor="end" transform="rotate(-90 330.7 297.2)">siRNA 20nM</text>
<text x="326.0" y="208.1" font-size="12.7" text-anchor="middle" font-style="italic">ns</text>
<text x="186.5" y="237.5" font-size="11.2" text-anchor="middle" transform="rotate(-90 186.5 237.5)">CD55 expression</text>
<text x="200.4" y="237.5" font-size="11.2" text-anchor="middle" transform="rotate(-90 200.4 237.5)">(MFI fold change)</text>
<polyline points="223.3,374.5 223.3,382.1 289.8,382.1 289.8,374.5" fill="none" stroke="#000" stroke-width="1.6"/>
<polyline points="294.5,374.5 294.5,382.1 339,382.1 339,374.5" fill="none" stroke="#000" stroke-width="1.6"/>
<text x="257" y="394" font-size="12.5" font-weight="bold" text-anchor="middle">HUVEC</text>
<text x="317.5" y="394" font-size="12.5" font-weight="bold" text-anchor="middle">HMEC</text>
<line x1="404.6" y1="181" x2="404.6" y2="294.825" stroke="#000" stroke-width="1.65"/>
<line x1="403.77500000000003" y1="294" x2="466" y2="294" stroke="#000" stroke-width="1.65"/>
<text x="401.8" y="194" font-size="12.7" text-anchor="end">1.5</text>
<text x="401.8" y="228" font-size="12.7" text-anchor="end">1.0</text>
<text x="401.8" y="260.6" font-size="12.7" text-anchor="end">0.5</text>
<text x="401.8" y="293.6" font-size="12.7" text-anchor="end">0</text>
<rect x="408.725" y="228.325" width="13.150000000000023" height="65.67500000000001" fill="#fff" stroke="#000" stroke-width="1.45"/>
<text x="418.3" y="296.4" font-size="12.85" text-anchor="end" transform="rotate(-90 418.3 296.4)">Control siRNA</text>
<line x1="435.8" y1="222.4" x2="435.8" y2="225.6" stroke="#000" stroke-width="1.45"/>
<line x1="432.0" y1="222.4" x2="439.6" y2="222.4" stroke="#000" stroke-width="1.45"/>
<rect x="428.6" y="225.6" width="14.399999999999977" height="68.4" fill="#000"/>
<text x="438.8" y="296.4" font-size="12.85" text-anchor="end" transform="rotate(-90 438.8 296.4)">siRNA 10nM</text>
<text x="436.1" y="218.1" font-size="12.7" text-anchor="middle" font-style="italic">ns</text>
<line x1="456.9" y1="212.4" x2="456.9" y2="219.6" stroke="#000" stroke-width="1.45"/>
<line x1="453.09999999999997" y1="212.4" x2="460.7" y2="212.4" stroke="#000" stroke-width="1.45"/>
<rect x="449.6" y="219.6" width="14.599999999999966" height="74.4" fill="#000"/>
<text x="461.09999999999997" y="296.4" font-size="12.85" text-anchor="end" transform="rotate(-90 461.09999999999997 296.4)">siRNA 20nM</text>
<text x="457.2" y="207.29999999999998" font-size="12.7" text-anchor="middle" font-style="italic">ns</text>
<line x1="475" y1="181.5" x2="475" y2="294.825" stroke="#000" stroke-width="1.65"/>
<line x1="474.175" y1="294" x2="516" y2="294" stroke="#000" stroke-width="1.65"/>
<line x1="472.7" y1="193.6" x2="475" y2="193.6" stroke="#000" stroke-width="1.0"/>
<line x1="472.7" y1="227" x2="475" y2="227" stroke="#000" stroke-width="1.0"/>
<line x1="472.7" y1="260.4" x2="475" y2="260.4" stroke="#000" stroke-width="1.0"/>
<line x1="485.7" y1="224.4" x2="485.7" y2="228" stroke="#000" stroke-width="1.45"/>
<line x1="481.9" y1="224.4" x2="489.5" y2="224.4" stroke="#000" stroke-width="1.45"/>
<rect x="479.125" y="228.725" width="13.150000000000023" height="65.275" fill="#fff" stroke="#000" stroke-width="1.45"/>
<text x="488.7" y="296.4" font-size="12.85" text-anchor="end" transform="rotate(-90 488.7 296.4)">Control siRNA</text>
<line x1="506.8" y1="219.4" x2="506.8" y2="226.4" stroke="#000" stroke-width="1.45"/>
<line x1="503.0" y1="219.4" x2="510.6" y2="219.4" stroke="#000" stroke-width="1.45"/>
<rect x="499.4" y="226.4" width="14.800000000000068" height="67.6" fill="#000"/>
<text x="511.8" y="296.4" font-size="12.85" text-anchor="end" transform="rotate(-90 511.8 296.4)">siRNA 20nM</text>
<text x="507.1" y="214.1" font-size="12.7" text-anchor="middle" font-style="italic">ns</text>
<text x="363.8" y="237.5" font-size="11.2" text-anchor="middle" transform="rotate(-90 363.8 237.5)">CD59 expression</text>
<text x="377.9" y="237.5" font-size="11.2" text-anchor="middle" transform="rotate(-90 377.9 237.5)">(MFI fold change)</text>
<polyline points="404.2,374.7 404.2,382.3 470.7,382.3 470.7,374.7" fill="none" stroke="#000" stroke-width="1.6"/>
<polyline points="475,374.7 475,382.3 519.5,382.3 519.5,374.7" fill="none" stroke="#000" stroke-width="1.6"/>
<text x="437.5" y="394.3" font-size="12.5" font-weight="bold" text-anchor="middle">HUVEC</text>
<text x="498" y="394.3" font-size="12.5" font-weight="bold" text-anchor="middle">HMEC</text>
<rect x="38.6" y="429.8" width="8.2" height="9.2" fill="#b0b0b0" stroke="#8c8c8c" stroke-width="1"/>
<text x="51.3" y="438.2" font-size="13.0">Control siRNA</text>
<rect x="38.9" y="445.0" width="7.8" height="7.8" fill="#fff" stroke="#000" stroke-width="1.7"/>
<text x="51.3" y="453.2" font-size="13.0">siRNA 20nM</text>
<rect x="38.9" y="459.6" width="8.0" height="8.0" fill="#fff" stroke="#111" stroke-width="1.7" stroke-dasharray="2.2 1.4"/>
<text x="51.3" y="468.2" font-size="13.0">Heme 100µM</text>
<polyline points="39.2,481.8 138.3,481.8 138.3,580.6" fill="none" stroke="#b0b0b0" stroke-width="0.9"/>
<polyline points="39.2,481.8 39.2,580.6 138.3,580.6" fill="none" stroke="#1a1a1a" stroke-width="1.1"/>
<line x1="37.0" y1="579.8000000000001" x2="39.2" y2="579.8000000000001" stroke="#222" stroke-width="0.8"/>
<text x="36.0" y="581.2" font-size="3.9" font-weight="bold" text-anchor="end" fill="#333" style="stroke:#333;stroke-width:0.25px">0</text>
<line x1="37.0" y1="561.2800000000001" x2="39.2" y2="561.2800000000001" stroke="#222" stroke-width="0.8"/>
<text x="36.0" y="562.6800000000001" font-size="3.9" font-weight="bold" text-anchor="end" fill="#333" style="stroke:#333;stroke-width:0.25px">20</text>
<line x1="37.0" y1="542.76" x2="39.2" y2="542.76" stroke="#222" stroke-width="0.8"/>
<text x="36.0" y="544.16" font-size="3.9" font-weight="bold" text-anchor="end" fill="#333" style="stroke:#333;stroke-width:0.25px">40</text>
<line x1="37.0" y1="524.24" x2="39.2" y2="524.24" stroke="#222" stroke-width="0.8"/>
<text x="36.0" y="525.64" font-size="3.9" font-weight="bold" text-anchor="end" fill="#333" style="stroke:#333;stroke-width:0.25px">60</text>
<line x1="37.0" y1="505.72" x2="39.2" y2="505.72" stroke="#222" stroke-width="0.8"/>
<text x="36.0" y="507.12" font-size="3.9" font-weight="bold" text-anchor="end" fill="#333" style="stroke:#333;stroke-width:0.25px">80</text>
<line x1="37.0" y1="487.20000000000005" x2="39.2" y2="487.20000000000005" stroke="#222" stroke-width="0.8"/>
<text x="36.0" y="488.6" font-size="3.9" font-weight="bold" text-anchor="end" fill="#333" style="stroke:#333;stroke-width:0.25px">100</text>
<line x1="38.0" y1="575.1700000000001" x2="39.2" y2="575.1700000000001" stroke="#444" stroke-width="0.5"/>
<line x1="38.0" y1="570.5400000000001" x2="39.2" y2="570.5400000000001" stroke="#444" stroke-width="0.5"/>
<line x1="38.0" y1="565.9100000000001" x2="39.2" y2="565.9100000000001" stroke="#444" stroke-width="0.5"/>
<line x1="38.0" y1="556.6500000000001" x2="39.2" y2="556.6500000000001" stroke="#444" stroke-width="0.5"/>
<line x1="38.0" y1="552.02" x2="39.2" y2="552.02" stroke="#444" stroke-width="0.5"/>
<line x1="38.0" y1="547.39" x2="39.2" y2="547.39" stroke="#444" stroke-width="0.5"/>
<line x1="38.0" y1="538.13" x2="39.2" y2="538.13" stroke="#444" stroke-width="0.5"/>
<line x1="38.0" y1="533.5" x2="39.2" y2="533.5" stroke="#444" stroke-width="0.5"/>
<line x1="38.0" y1="528.87" x2="39.2" y2="528.87" stroke="#444" stroke-width="0.5"/>
<line x1="38.0" y1="519.61" x2="39.2" y2="519.61" stroke="#444" stroke-width="0.5"/>
<line x1="38.0" y1="514.98" x2="39.2" y2="514.98" stroke="#444" stroke-width="0.5"/>
<line x1="38.0" y1="510.35" x2="39.2" y2="510.35" stroke="#444" stroke-width="0.5"/>
<line x1="38.0" y1="501.09000000000003" x2="39.2" y2="501.09000000000003" stroke="#444" stroke-width="0.5"/>
<line x1="38.0" y1="496.46000000000004" x2="39.2" y2="496.46000000000004" stroke="#444" stroke-width="0.5"/>
<line x1="38.0" y1="491.83000000000004" x2="39.2" y2="491.83000000000004" stroke="#444" stroke-width="0.5"/>
<rect x="51.5" y="580.6" width="5.5" height="1.8" fill="#111"/>
<line x1="54.5" y1="580.6" x2="54.5" y2="582.8000000000001" stroke="#222" stroke-width="0.7"/>
<text x="54.5" y="592.2" font-size="3.9" font-weight="bold" text-anchor="middle" fill="#333" style="stroke:#333;stroke-width:0.25px">0</text>
<line x1="82.5" y1="580.6" x2="82.5" y2="582.8000000000001" stroke="#222" stroke-width="0.7"/>
<text x="81.9" y="592.6" font-size="3.9" font-weight="bold" text-anchor="middle" fill="#333" style="stroke:#333;stroke-width:0.25px">10<tspan dy="-1.6" font-size="3.12">3</tspan></text>
<line x1="107" y1="580.6" x2="107" y2="582.8000000000001" stroke="#222" stroke-width="0.7"/>
<text x="106.4" y="592.6" font-size="3.9" font-weight="bold" text-anchor="middle" fill="#333" style="stroke:#333;stroke-width:0.25px">10<tspan dy="-1.6" font-size="3.12">4</tspan></text>
<line x1="130.5" y1="580.6" x2="130.5" y2="582.8000000000001" stroke="#222" stroke-width="0.7"/>
<text x="129.9" y="592.6" font-size="3.9" font-weight="bold" text-anchor="middle" fill="#333" style="stroke:#333;stroke-width:0.25px">10<tspan dy="-1.6" font-size="3.12">5</tspan></text>
<line x1="89.87523489376754" y1="580.6" x2="89.87523489376754" y2="581.8000000000001" stroke="#555" stroke-width="0.4"/>
<line x1="94.18947074063173" y1="580.6" x2="94.18947074063173" y2="581.8000000000001" stroke="#555" stroke-width="0.4"/>
<line x1="97.25046978753508" y1="580.6" x2="97.25046978753508" y2="581.8000000000001" stroke="#555" stroke-width="0.4"/>
<line x1="99.62476510623246" y1="580.6" x2="99.62476510623246" y2="581.8000000000001" stroke="#555" stroke-width="0.4"/>
<line x1="101.56470563439927" y1="580.6" x2="101.56470563439927" y2="581.8000000000001" stroke="#555" stroke-width="0.4"/>
<line x1="103.20490198034929" y1="580.6" x2="103.20490198034929" y2="581.8000000000001" stroke="#555" stroke-width="0.4"/>
<line x1="104.62570468130261" y1="580.6" x2="104.62570468130261" y2="581.8000000000001" stroke="#555" stroke-width="0.4"/>
<line x1="105.87894148126347" y1="580.6" x2="105.87894148126347" y2="581.8000000000001" stroke="#555" stroke-width="0.4"/>
<line x1="114.37523489376754" y1="580.6" x2="114.37523489376754" y2="581.8000000000001" stroke="#555" stroke-width="0.4"/>
<line x1="118.68947074063173" y1="580.6" x2="118.68947074063173" y2="581.8000000000001" stroke="#555" stroke-width="0.4"/>
<line x1="121.75046978753508" y1="580.6" x2="121.75046978753508" y2="581.8000000000001" stroke="#555" stroke-width="0.4"/>
<line x1="124.12476510623246" y1="580.6" x2="124.12476510623246" y2="581.8000000000001" stroke="#555" stroke-width="0.4"/>
<line x1="126.06470563439927" y1="580.6" x2="126.06470563439927" y2="581.8000000000001" stroke="#555" stroke-width="0.4"/>
<line x1="127.70490198034929" y1="580.6" x2="127.70490198034929" y2="581.8000000000001" stroke="#555" stroke-width="0.4"/>
<line x1="129.1257046813026" y1="580.6" x2="129.1257046813026" y2="581.8000000000001" stroke="#555" stroke-width="0.4"/>
<line x1="130.37894148126347" y1="580.6" x2="130.37894148126347" y2="581.8000000000001" stroke="#555" stroke-width="0.4"/>
<text x="19.8" y="534.8" font-size="12.9" text-anchor="middle" transform="rotate(-90 19.8 534.8)">count</text>
<polyline points="57.0,580.2 57.8,579.5 58.6,578.6 59.4,577.4 60.2,575.7 61.0,573.8 61.8,571.2 62.6,568.8 63.4,566.0 64.2,564.5 65.0,561.7 65.8,559.0 66.6,554.3 67.4,551.2 68.2,546.1 69.0,542.5 69.8,538.4 70.6,530.9 71.4,527.9 72.2,523.7 73.0,520.4 73.8,511.3 74.6,507.2 75.4,507.8 76.2,502.4 77.0,498.9 77.8,501.6 78.6,497.1 79.4,492.7 80.2,501.0 81.0,496.9 81.8,495.0 82.6,502.8 83.4,504.3 84.2,505.0 85.0,506.7 85.8,509.4 86.6,515.6 87.4,516.2 88.2,516.8 89.0,519.9 89.8,519.8 90.6,525.1 91.4,528.2 92.2,528.0 93.0,534.1 93.8,538.5 94.6,540.4 95.4,543.9 96.2,546.1 97.0,549.6 97.8,553.4 98.6,556.5 99.4,559.4 100.2,561.0 101.0,563.3 101.8,566.5 102.6,568.4 103.4,570.3 104.2,572.1 105.0,573.4 105.8,574.5 106.6,575.6 107.4,576.2 108.2,576.7 109.0,577.2 109.8,577.8 110.6,578.2 111.4,578.4 112.2,578.6 113.0,579.0 113.8,579.3 114.6,579.5 115.4,579.8 116.2,580.0 117.0,580.1 117.8,580.3 118.6,580.4 119.4,580.5" fill="none" stroke="#c4c4c4" stroke-width="1" stroke-linejoin="round"/>
<polygon points="53.0,580.6 53.0,579.6 53.5,578.2 54.0,575.8 54.5,572.6 55.0,568.8 55.5,562.9 56.0,557.1 56.5,548.2 57.0,539.6 57.5,528.4 58.0,521.0 58.5,514.0 59.0,510.5 59.5,504.2 60.0,502.6 60.5,499.4 61.0,498.3 61.5,498.8 62.0,502.1 62.5,507.4 63.0,510.1 63.5,511.8 64.0,516.6 64.5,521.1 65.0,527.8 65.5,532.7 66.0,535.1 66.5,539.1 67.0,543.4 67.5,546.5 68.0,550.1 68.5,551.8 69.0,553.2 69.5,556.3 70.0,557.7 70.5,558.8 71.0,559.8 71.5,561.2 72.0,561.5 72.5,562.4 73.0,563.1 73.5,564.0 74.0,564.7 74.5,565.8 75.0,565.9 75.5,567.3 76.0,567.6 76.5,568.5 77.0,569.6 77.5,570.7 78.0,571.7 78.5,572.4 79.0,573.0 79.5,573.8 80.0,574.8 80.5,575.6 81.0,576.1 81.5,577.1 82.0,577.9 82.5,578.4 83.0,578.9 83.5,579.4 84.0,579.7 84.5,580.1 85.0,580.4 85.0,580.6" fill="#cbcbcb" stroke="#8f8f8f" stroke-width="0.9" stroke-linejoin="round"/>
<polyline points="51.5,580.1 52.0,579.3 52.5,578.3 53.0,576.7 53.5,573.8 54.0,569.9 54.5,564.2 55.0,557.8 55.5,550.4 56.0,542.6 56.5,533.8 57.0,524.9 57.5,517.1 58.0,511.6 58.5,508.5 59.0,503.3 59.5,501.9 60.0,497.2 60.5,497.5 61.0,498.1 61.5,498.5 62.0,500.9 62.5,500.4 63.0,504.3 63.5,504.6 64.0,511.0 64.5,513.8 65.0,514.6 65.5,519.1 66.0,524.0 66.5,531.8 67.0,535.6 67.5,539.5 68.0,543.2 68.5,544.8 69.0,547.9 69.5,549.6 70.0,551.5 70.5,552.9 71.0,552.5 71.5,554.5 72.0,556.7 72.5,557.2 73.0,559.4 73.5,560.4 74.0,560.6 74.5,562.2 75.0,562.7 75.5,563.3 76.0,563.1 76.5,563.5 77.0,564.5 77.5,564.5 78.0,566.1 78.5,566.5 79.0,566.9 79.5,568.2 80.0,568.9 80.5,569.7 81.0,570.5 81.5,571.4 82.0,572.5 82.5,573.2 83.0,574.1 83.5,574.9 84.0,576.0 84.5,576.7 85.0,577.2 85.5,577.8 86.0,578.2 86.5,578.9 87.0,579.5 87.5,579.8 88.0,580.0 88.5,580.1 89.0,580.1 89.5,580.1 90.0,580.1 90.5,580.2 91.0,580.2 91.5,580.2 92.0,580.3 92.5,580.4 93.0,580.4 93.5,580.4 94.0,580.5 94.5,580.5 95.0,580.6" fill="none" stroke="#111" stroke-width="1.15" stroke-linejoin="round"/>
<line x1="35.5" y1="606.8" x2="132.5" y2="606.8" stroke="#000" stroke-width="1.5"/>
<polygon points="135.5,606.8 131.0,604.1999999999999 131.0,609.4" fill="#000"/>
<text x="88.7" y="620.4" font-size="13" font-weight="bold" text-anchor="middle">C3c</text>
<line x1="224.4" y1="432" x2="224.4" y2="554.35" stroke="#000" stroke-width="1.7"/>
<line x1="223.55" y1="553.5" x2="321.5" y2="553.5" stroke="#000" stroke-width="1.7"/>
<text x="222.0" y="443.6" font-size="12.7" text-anchor="end">6</text>
<text x="222.0" y="481.4" font-size="12.7" text-anchor="end">4</text>
<text x="222.0" y="519" font-size="12.7" text-anchor="end">2</text>
<text x="222.0" y="555.2" font-size="12.7" text-anchor="end">0</text>
<line x1="238.0" y1="530" x2="238.0" y2="534.6" stroke="#000" stroke-width="1.5"/>
<line x1="233.0" y1="530" x2="243.0" y2="530" stroke="#000" stroke-width="1.5"/>
<rect x="229.75" y="535.35" width="16.5" height="18.149999999999977" fill="#fff" stroke="#000" stroke-width="1.5"/>
<text x="242.2" y="557.9" font-size="12.6" text-anchor="end" transform="rotate(-90 242.2 557.9)">Control siRNA</text>
<line x1="259.95" y1="525.4" x2="259.95" y2="531.4" stroke="#000" stroke-width="1.5"/>
<line x1="254.95" y1="525.4" x2="264.95" y2="525.4" stroke="#000" stroke-width="1.5"/>
<rect x="250.4" y="531.4" width="19.099999999999994" height="22.100000000000023" fill="#000"/>
<text x="264.15" y="557.9" font-size="12.6" text-anchor="end" transform="rotate(-90 264.15 557.9)">siRNA 20nM</text>
<text x="261.75" y="520.7" font-size="12.7" text-anchor="middle" font-style="italic">ns</text>
<line x1="287.7" y1="438" x2="287.7" y2="457.4" stroke="#000" stroke-width="1.5"/>
<line x1="282.7" y1="438" x2="292.7" y2="438" stroke="#000" stroke-width="1.5"/>
<rect x="279.15" y="458.15" width="17.100000000000023" height="95.35000000000002" fill="#fff" stroke="#000" stroke-width="1.5"/>
<text x="291.9" y="557.9" font-size="12.6" text-anchor="end" transform="rotate(-90 291.9 557.9)">Control siRNA</text>
<text x="289.5" y="436.5" font-size="11.5" font-weight="bold" text-anchor="middle">**</text>
<line x1="309.65" y1="485.6" x2="309.65" y2="497" stroke="#000" stroke-width="1.5"/>
<line x1="304.65" y1="485.6" x2="314.65" y2="485.6" stroke="#000" stroke-width="1.5"/>
<rect x="300" y="497" width="19.30000000000001" height="56.5" fill="#000"/>
<text x="313.84999999999997" y="557.9" font-size="12.6" text-anchor="end" transform="rotate(-90 313.84999999999997 557.9)">siRNA 20nM</text>
<text x="189.6" y="497" font-size="12.7" text-anchor="middle" transform="rotate(-90 189.6 497)">C3 deposition</text>
<text x="205.2" y="497" font-size="12.7" text-anchor="middle" transform="rotate(-90 205.2 497)">(normalized MFI)</text>
<polyline points="226,635 226,641.4 271.6,641.4 271.6,635" fill="none" stroke="#000" stroke-width="1.6"/>
<polyline points="274.4,635 274.4,641.4 321,641.4 321,635" fill="none" stroke="#000" stroke-width="1.6"/>
<text x="143" y="653.6" font-size="12.7">Heme 100µM:</text>
<text x="250.3" y="654.5" font-size="12.7" text-anchor="middle">-</text>
<text x="297.3" y="654.0" font-size="12.7" text-anchor="middle">+</text>
<line x1="225" y1="662.6" x2="321.5" y2="662.6" stroke="#000" stroke-width="1.6"/>
<text x="274.8" y="676.3" font-size="12.5" font-weight="bold" text-anchor="middle">HUVEC</text>
<line x1="353.8" y1="438.6" x2="353.8" y2="552.75" stroke="#000" stroke-width="1.7"/>
<line x1="352.95" y1="551.9" x2="406.5" y2="551.9" stroke="#000" stroke-width="1.7"/>
<line x1="351.5" y1="439.2" x2="353.8" y2="439.2" stroke="#000" stroke-width="1.0"/>
<line x1="351.5" y1="476.6" x2="353.8" y2="476.6" stroke="#000" stroke-width="1.0"/>
<line x1="351.5" y1="514" x2="353.8" y2="514" stroke="#000" stroke-width="1.0"/>
<text x="351.5" y="443.2" font-size="12.7" text-anchor="end">6</text>
<text x="351.5" y="481" font-size="12.7" text-anchor="end">4</text>
<text x="351.5" y="518.6" font-size="12.7" text-anchor="end">2</text>
<text x="351.5" y="555.0" font-size="12.7" text-anchor="end">0</text>
<line x1="368.2" y1="532.6" x2="368.2" y2="533" stroke="#000" stroke-width="1.5"/>
<line x1="363.2" y1="532.6" x2="373.2" y2="532.6" stroke="#000" stroke-width="1.5"/>
<rect x="359.75" y="533.75" width="16.899999999999977" height="18.149999999999977" fill="#fff" stroke="#000" stroke-width="1.5"/>
<text x="373.09999999999997" y="555.6999999999999" font-size="12.6" text-anchor="end" transform="rotate(-90 373.09999999999997 555.6999999999999)">Control siRNA</text>
<line x1="394.2" y1="532.8" x2="394.2" y2="533.4" stroke="#000" stroke-width="1.5"/>
<line x1="389.2" y1="532.8" x2="399.2" y2="532.8" stroke="#000" stroke-width="1.5"/>
<rect x="385" y="533.4" width="18.399999999999977" height="18.5" fill="#000"/>
<text x="399.09999999999997" y="555.6999999999999" font-size="12.6" text-anchor="end" transform="rotate(-90 399.09999999999997 555.6999999999999)">siRNA 20nM</text>
<text x="395.7" y="528.1" font-size="12.7" text-anchor="middle" font-style="italic">ns</text>
<line x1="359" y1="639.6" x2="403.5" y2="639.6" stroke="#000" stroke-width="1.6"/>
<text x="381.8" y="653.6" font-size="12.5" font-weight="bold" text-anchor="middle">HMEC</text>
<line x1="431.5" y1="438.6" x2="431.5" y2="552.75" stroke="#000" stroke-width="1.7"/>
<line x1="430.65" y1="551.9" x2="508" y2="551.9" stroke="#000" stroke-width="1.7"/>
<line x1="429.2" y1="439.2" x2="431.5" y2="439.2" stroke="#000" stroke-width="1.0"/>
<line x1="429.2" y1="476.6" x2="431.5" y2="476.6" stroke="#000" stroke-width="1.0"/>
<line x1="429.2" y1="514" x2="431.5" y2="514" stroke="#000" stroke-width="1.0"/>
<text x="429.2" y="443.2" font-size="12.7" text-anchor="end">6</text>
<text x="429.2" y="481" font-size="12.7" text-anchor="end">4</text>
<text x="429.2" y="518.6" font-size="12.7" text-anchor="end">2</text>
<text x="429.2" y="555.0" font-size="12.7" text-anchor="end">0</text>
<line x1="444.2" y1="529.2" x2="444.2" y2="532.7" stroke="#000" stroke-width="1.5"/>
<line x1="439.59999999999997" y1="529.2" x2="448.8" y2="529.2" stroke="#000" stroke-width="1.5"/>
<rect x="435.75" y="533.45" width="16.899999999999977" height="18.449999999999932" fill="#fff" stroke="#000" stroke-width="1.5"/>
<line x1="470.1" y1="528.2" x2="470.1" y2="532.0" stroke="#000" stroke-width="1.5"/>
<line x1="465.5" y1="528.2" x2="474.70000000000005" y2="528.2" stroke="#000" stroke-width="1.5"/>
<rect x="461.75" y="532.75" width="16.69999999999999" height="19.149999999999977" fill="#949494" stroke="#000" stroke-width="1.5"/>
<line x1="495.5" y1="526.2" x2="495.5" y2="529.7" stroke="#000" stroke-width="1.5"/>
<line x1="490.9" y1="526.2" x2="500.1" y2="526.2" stroke="#000" stroke-width="1.5"/>
<rect x="486.4" y="529.7" width="18.200000000000045" height="22.199999999999932" fill="#000"/>
<line x1="469" y1="508.7" x2="495" y2="508.7" stroke="#000" stroke-width="1.7"/>
<line x1="443.6" y1="515.7" x2="495" y2="515.7" stroke="#000" stroke-width="1.7"/>
<text x="484.8" y="501.6" font-size="12.7" text-anchor="middle" font-style="italic">ns</text>
<text x="451.2" y="559.9" font-size="12.6" text-anchor="end" transform="rotate(-50 451.2 559.9)">Untreated</text>
<text x="477.4" y="559.9" font-size="12.6" text-anchor="end" transform="rotate(-50 477.4 559.9)">Control IgG1</text>
<text x="502.8" y="559.9" font-size="12.6" text-anchor="end" transform="rotate(-50 502.8 559.9)">anti-CD46</text>
</svg>
</body></html>
